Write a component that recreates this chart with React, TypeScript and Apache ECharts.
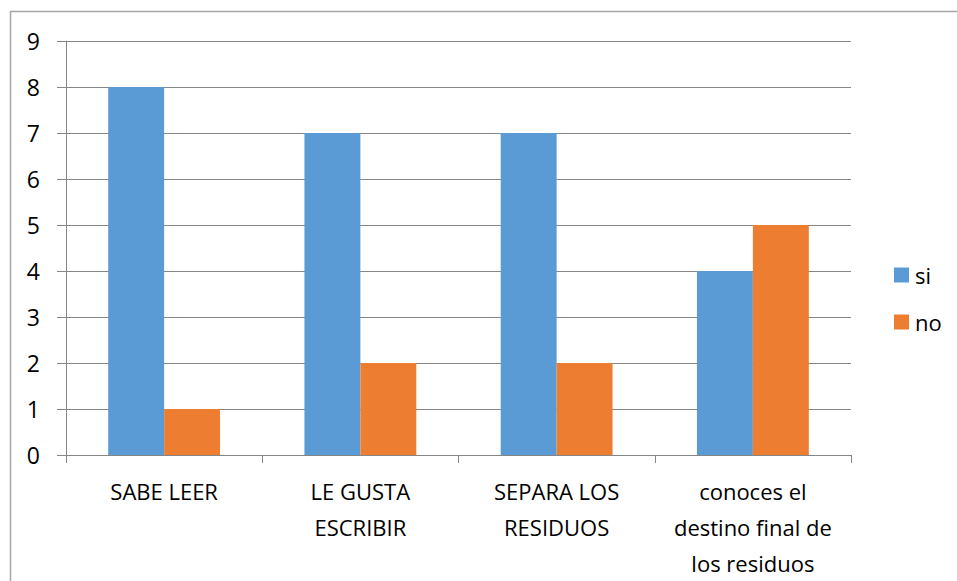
import React, { useEffect, useRef } from "react";
import * as echarts from "echarts";

const categories = [
  "SABE LEER",
  "LE GUSTA\nESCRIBIR",
  "SEPARA LOS\nRESIDUOS",
  "conoces el\ndestino final de\nlos residuos",
];
const siValues = [8, 7, 7, 4];
const noValues = [1, 2, 2, 5];

export default function App() {
  const ref = useRef<HTMLDivElement>(null);
  useEffect(() => {
    if (!ref.current) return;
    const chart = echarts.init(ref.current, null, { renderer: "svg" });
    const font = "'Open Sans', 'Noto Sans', sans-serif";
    chart.setOption({
      animation: false,
      backgroundColor: "#ffffff",
      textStyle: { fontFamily: font },
      graphic: [
        {
          type: "rect",
          shape: { x: 10.5, y: 11.5, width: 1000, height: 700 },
          style: { fill: "none", stroke: "#a6a6a6", lineWidth: 1.5 },
          silent: true,
        },
      ],
      grid: { left: 66, right: 106, top: 41, bottom: 126, containLabel: false },
      legend: {
        orient: "vertical",
        left: 889,
        top: 259,
        itemWidth: 15,
        itemHeight: 15,
        itemGap: 25,
        icon: "rect",
        textStyle: { fontSize: 22, color: "#000", fontFamily: font, padding: [0, 0, 0, 1] },
        data: ["si", "no"],
      },
      xAxis: {
        type: "category",
        data: categories,
        axisLine: { show: true, lineStyle: { color: "#868686", width: 1 } },
        axisTick: { show: true, length: 8, inside: false, lineStyle: { color: "#868686" } },
        axisLabel: {
          fontSize: 22,
          color: "#000",
          lineHeight: 36,
          margin: 18,
          interval: 0,
          fontFamily: font,
        },
      },
      yAxis: {
        type: "value",
        min: 0,
        max: 9,
        interval: 1,
        axisLine: { show: true, lineStyle: { color: "#868686", width: 1 } },
        axisTick: { show: true, length: 9, lineStyle: { color: "#868686" } },
        splitLine: { show: true, lineStyle: { color: "#868686", width: 1 } },
        axisLabel: { fontSize: 23, color: "#000", margin: 26, fontFamily: font },
      },
      series: [
        {
          name: "si",
          type: "bar",
          data: siValues,
          itemStyle: { color: "#5B9BD5" },
          barGap: "0%",
          barCategoryGap: "43%",
        },
        {
          name: "no",
          type: "bar",
          data: noValues,
          itemStyle: { color: "#ED7D31" },
          barGap: "0%",
          barCategoryGap: "43%",
        },
      ],
    });
    return () => chart.dispose();
  }, []);
  return (
    <div
      ref={ref}
      style={{ position: "fixed", left: 0, top: 0, width: 957, height: 581 }}
    />
  );
}
